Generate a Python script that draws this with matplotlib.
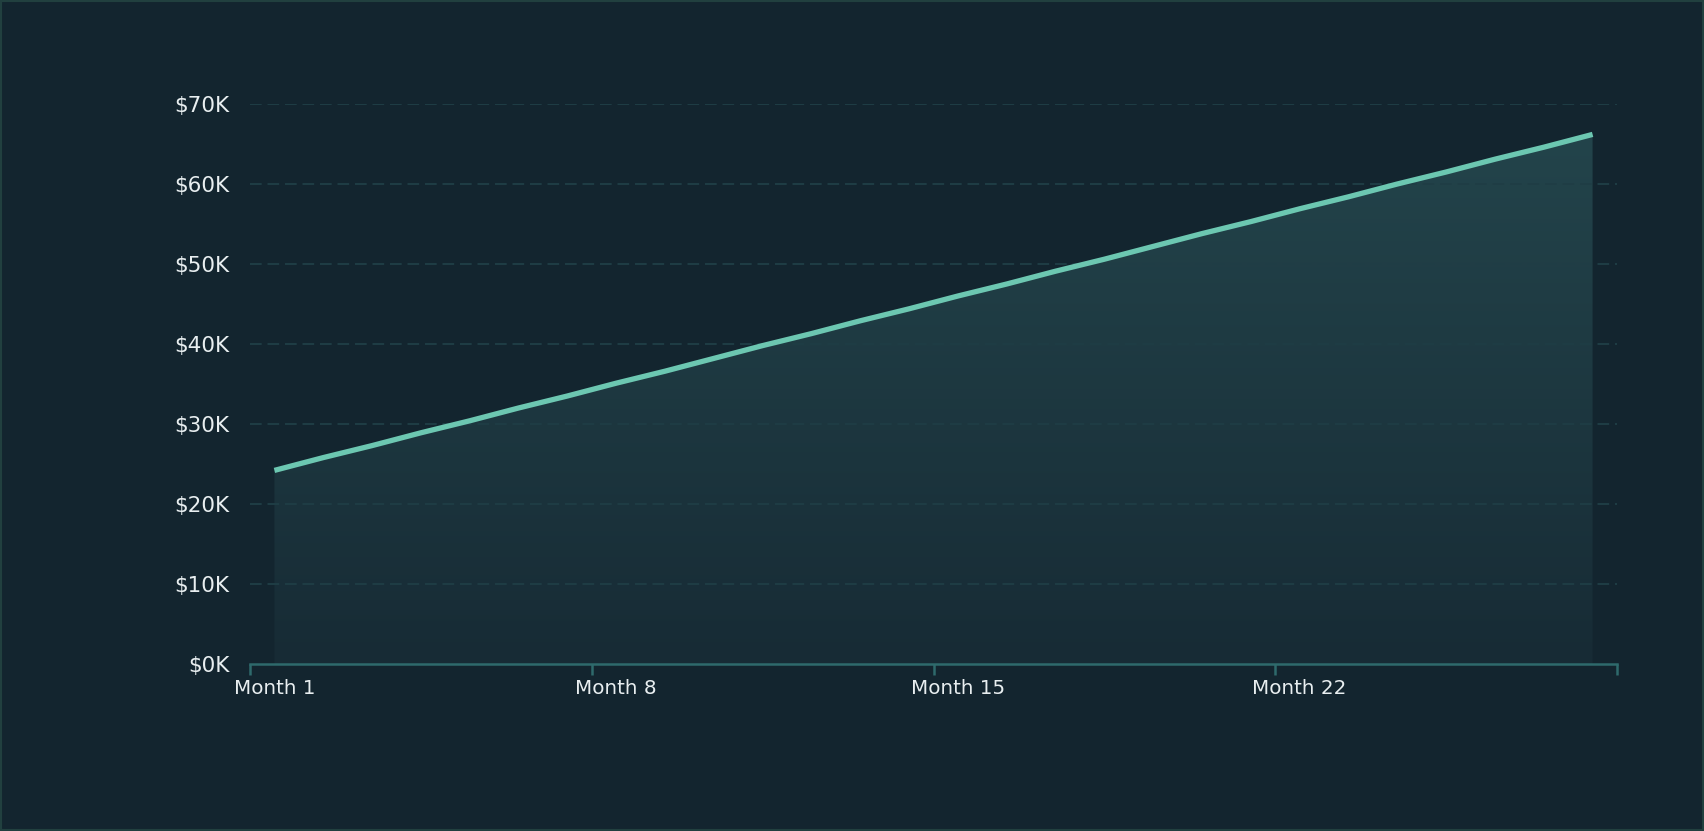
import numpy as np
import matplotlib.pyplot as plt
from matplotlib.patches import Rectangle
from matplotlib.ticker import FuncFormatter
from matplotlib.colors import LinearSegmentedColormap

# monthly values (USD)
months = ["Month %d" % m for m in range(1, 29)]
values = [24200, 25800, 27300, 28900, 30400, 32000, 33500, 35100,
          36600, 38200, 39800, 41300, 42900, 44400, 46000, 47500,
          49100, 50600, 52200, 53800, 55300, 56900, 58400, 60000,
          61500, 63100, 64600, 66200]
label_every = 7
y_ticks = [0, 10000, 20000, 30000, 40000, 50000, 60000, 70000]

bg = "#13252f"
line_col = "#6cc7b1"
axis_col = "#2e6a6c"
grid_col = "#1f3d45"
text_col = "#e8eef0"

plt.rcParams['font.family'] = ['DejaVu Sans']

fig = plt.figure(figsize=(17.04, 8.31), dpi=100, facecolor=bg)
ax = fig.add_axes([250/1704, 1-664/831, (1617-250)/1704, (664-104)/831])
ax.set_facecolor(bg)

x = np.arange(len(values))
y = np.array(values, dtype=float)

# gradient fill under the line
poly = ax.fill_between(x, y, 0, color="none", lw=0, zorder=1)
grad = np.linspace(0, 1, 256).reshape(-1, 1)
cmap = LinearSegmentedColormap.from_list("g", ["#172b35", "#23444b"])
img = ax.imshow(grad, cmap=cmap, origin="lower", aspect="auto",
                extent=[x[0], x[-1], 0, y.max()], zorder=1)
img.set_clip_path(poly.get_paths()[0], transform=ax.transData)

ax.plot(x, y, color=line_col, lw=3.8, solid_capstyle="butt", zorder=4)

ax.set_xlim(-0.5, len(values) - 0.5)
ax.set_ylim(0, 70000)

# grid
for v in y_ticks[1:]:
    ax.axhline(v, color=grid_col, lw=1.4, ls=(0, (6, 3)), zorder=2)

for s in ["left", "right", "top"]:
    ax.spines[s].set_visible(False)
ax.spines["bottom"].set_color(axis_col)
ax.spines["bottom"].set_linewidth(1.8)

# tick marks at band edges, labels at band centers
edge_ticks = [i - 0.5 for i in range(0, len(values), label_every)] + [len(values) - 0.5]
ax.set_xticks(edge_ticks)
ax.set_xticklabels([""] * len(edge_ticks))
ax.tick_params(axis="x", which="major", color=axis_col, width=1.8, length=8)
lab_pos = list(range(0, len(values), label_every))
ax.set_xticks(lab_pos, minor=True)
ax.set_xticklabels([months[i] for i in lab_pos], minor=True)
ax.tick_params(axis="x", which="minor", length=0, pad=11, labelsize=14.3, labelcolor=text_col)

ax.set_yticks(y_ticks)
ax.yaxis.set_major_formatter(FuncFormatter(lambda v, p: "$%dK" % round(v / 1000)))
ax.tick_params(axis="y", length=0, pad=15, labelsize=15.5, labelcolor=text_col)

fig.patches.append(Rectangle((0.0006, 0.0012), 0.9988, 0.9976, transform=fig.transFigure,
                             fill=False, edgecolor="#21403f", lw=1.5))

fig.savefig("out.png", dpi=100, facecolor=bg)
